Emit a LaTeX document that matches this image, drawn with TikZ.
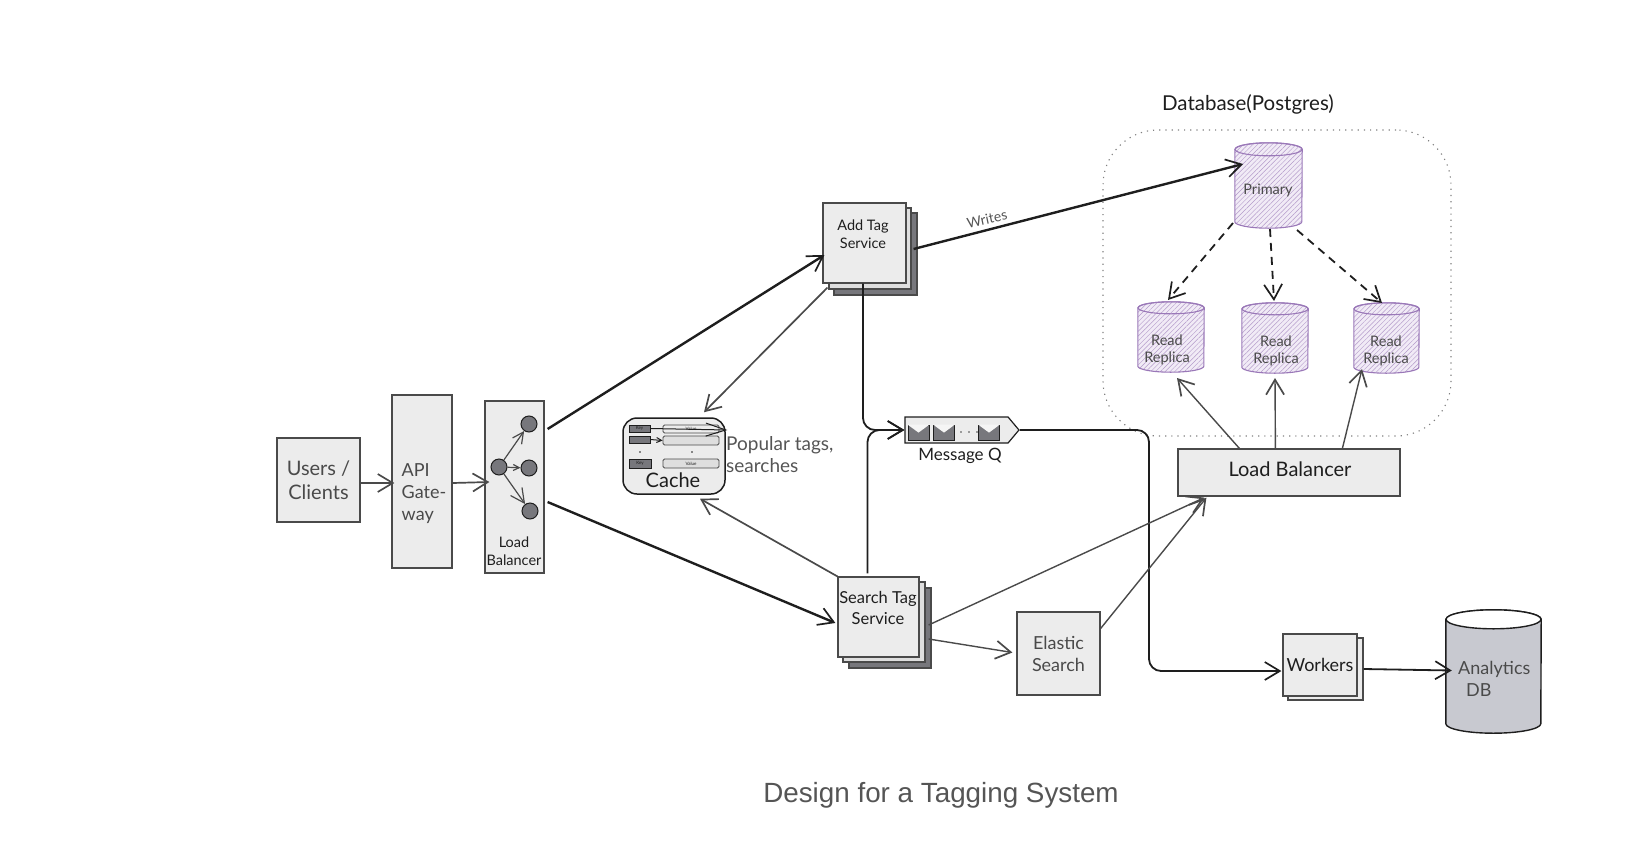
\documentclass[tikz,border=0pt]{standalone}
\usepackage{fontspec}
\setmainfont{Lato}
\newfontfamily\capfont{Liberation Sans}
\usetikzlibrary{arrows.meta,calc,patterns.meta,shapes.symbols}
\definecolor{ink}{HTML}{1E1E1E}
\definecolor{soft}{HTML}{4A4A4A}
\definecolor{boxfill}{HTML}{ECECEC}
\definecolor{midfill}{HTML}{DEDEDE}
\definecolor{darkfill}{HTML}{77777C}
\definecolor{dbfill}{HTML}{C8C9D0}
\definecolor{purp}{HTML}{9A78B8}
\definecolor{purpbg}{HTML}{F1EBF6}
\definecolor{txtgray}{HTML}{555555}
\tikzset{
  fs/.style={font=\fontsize{#1}{1.22\dimexpr#1pt\relax}\selectfont},
  box/.style={draw=soft,line width=1.2pt,fill=boxfill,rectangle,inner sep=0pt,align=center,text=soft},
  lbl/.style={inner sep=0pt,align=center,text=ink},
  cylbox/.style={rectangle,inner sep=0pt},
  replbody/.style={draw=purp,line width=1.1pt,preaction={fill=purpbg},pattern={Lines[angle=45,distance=3.4pt,line width=.45pt]},pattern color=purp!75},
  dbbody/.style={draw=ink,line width=1.4pt,fill=dbfill},
  dotn/.style={circle,draw=ink,line width=1pt,fill=darkfill,minimum size=16pt,inner sep=0pt},
  keyb/.style={rectangle,draw=ink,line width=.8pt,fill=darkfill,inner sep=0pt,text=ink,font=\fontsize{4.5}{5}\selectfont},
  valb/.style={rectangle,rounded corners=1.5pt,draw=soft,line width=.8pt,fill=midfill,inner sep=0pt,text=ink,font=\fontsize{4.5}{5}\selectfont},
  env/.style={rectangle,draw=ink,line width=.8pt,fill=darkfill,minimum width=21pt,minimum height=15pt,inner sep=0pt},
  bar/.style={-{Straight Barb[length=15pt,width=18pt,line width=1.7pt]}},
  mainline/.style={bar,draw=ink,line width=2.4pt},
  medline/.style={bar,draw=ink,line width=1.8pt},
  softline/.style={bar,draw=soft,line width=1.7pt},
  dashline/.style={bar,draw=ink,line width=1.8pt,dash pattern=on 8pt off 6pt},
}
% #1 node name, #2 x radius, #3 y radius, #4 body style, #5 top style
\newcommand{\cylshape}[5]{%
  \path[#4] ($(#1.north west)+(0,#3)$) -- ($(#1.south west)+(0,-#3)$)
     arc[start angle=180,end angle=0,x radius=#2,y radius=#3]
     -- ($(#1.north east)+(0,#3)$)
     arc[start angle=0,end angle=-180,x radius=#2,y radius=#3] -- cycle;
  \path[#5] ($(#1.north)+(0,#3)$) ellipse[x radius=#2,y radius=#3];
}
\begin{document}
\begin{tikzpicture}[x=1pt,y=-1pt]
\useasboundingbox (0,0) rectangle (1649,854);
% database group
\node[draw=soft!70,rectangle,rounded corners=55pt,line width=1.1pt,dash pattern=on 1.2pt off 5pt,minimum width=348pt,minimum height=306pt,inner sep=0pt] (dbgroup) at (1277,283) {};
\node[lbl,fs=20.5] (dbtitle) at (1248,104) {Database(Postgres)};
% left boxes
\node[box,fs=20,minimum width=83pt,minimum height=84pt] (users) at (318.5,480) {Users /\\Clients};
\node[box,minimum width=60pt,minimum height=173pt] (api) at (422,481.5) {};
\node[lbl,fs=18,align=left,text=soft] (apitext) at (424,494) {API\\Gate-\\way};
\node[box,minimum width=59pt,minimum height=172pt] (lb) at (514.5,487) {};
\node[lbl,fs=14.5] (lbtext) at (514,551) {Load\\Balancer};
\node[dotn] (c0) at (499,467) {};
\node[dotn] (c1) at (529,424) {};
\node[dotn] (c2) at (529,468) {};
\node[dotn] (c3) at (530,511) {};
% cache
\node[box,draw=ink,line width=1.5pt,rounded corners=14pt,minimum width=102pt,minimum height=76pt] (cache) at (674,456) {};
\node[keyb,minimum width=21pt,minimum height=7pt] (k1) at (639.5,428.5) {Key};
\node[keyb,minimum width=21pt,minimum height=7pt] (k2) at (639.5,439.5) {};
\node[keyb,minimum width=22pt,minimum height=9pt] (k3) at (640,463.5) {Key};
\node[valb,fill=boxfill,minimum width=56pt,minimum height=8pt] (v1) at (691,429) {Value};
\node[valb,minimum width=56pt,minimum height=9pt] (v2) at (691,440.5) {};
\node[valb,minimum width=56pt,minimum height=9pt] (v3) at (691,463.5) {Value};
\fill[ink] (640,452) circle (.9pt) (692,452) circle (.9pt);
\node[lbl,fs=20] (cachetext) at (673,480) {Cache};
\node[lbl,font=\fontsize{19}{21.5}\selectfont,anchor=west,align=left,text=txtgray] (poptext) at (726,454.5) {Popular tags,\\searches};
% services
\node[box,fill=darkfill,minimum width=83pt,minimum height=82pt] (add3) at (875.5,254) {};
\node[box,fill=midfill,minimum width=82pt,minimum height=81pt] (add2) at (870,248.5) {};
\node[box,minimum width=83pt,minimum height=80pt] (addtag) at (864.5,243) {};
\node[lbl,fs=14.5] (addtext) at (863,234.5) {Add Tag\\Service};
\node[box,fill=darkfill,minimum width=82pt,minimum height=80pt] (srch3) at (890,628) {};
\node[box,fill=midfill,minimum width=82pt,minimum height=80pt] (srch2) at (884,622) {};
\node[box,minimum width=81pt,minimum height=80pt] (search) at (878.5,617) {};
\node[lbl,fs=16.5] (searchtext) at (878,608) {Search Tag\\Service};
\node[box,fs=18,minimum width=83pt,minimum height=83pt] (elastic) at (1058.5,653.5) {Elastic\\Search};
% message queue
\node[signal,signal to=east,signal from=nowhere,signal pointer angle=100,draw=ink,line width=1.2pt,fill=boxfill,minimum width=114pt,minimum height=26pt,inner sep=0pt] (mq) at (956.5,430) {};
\foreach \n/\x in {e1/918.5,e2/944,e3/989}{
  \node[env] (\n) at (\x,432.5) {};
  \fill[white!92!gray] (\n.north west) -- (\n.north east) -- ($(\n.north)+(0,8)$) -- cycle;
}
\foreach \n/\x in {m1/961,m2/969,m3/977}{ \node[circle,fill=soft,inner sep=0pt,minimum size=1.8pt] (\n) at (\x,432) {}; }
\node[lbl,fs=17] (mqtext) at (960,456) {Message Q};
\node[lbl,fs=14,rotate=12,text=txtgray] (writes) at (987,219) {Writes};
% databases
\node[cylbox,minimum width=67pt,minimum height=85pt] (primary) at (1268.5,185.5) {};
\cylshape{primary}{33.5}{6.5}{replbody}{draw=purp,line width=1.1pt}
\node[lbl,fs=14.5,text=soft] (primtext) at (1268,190) {Primary};
\node[cylbox,minimum width=66pt,minimum height=70pt] (r1) at (1171,337) {};
\cylshape{r1}{33}{6}{replbody}{draw=purp,line width=1.1pt}
\node[lbl,fs=14.5,text=soft] (r1text) at (1167,350) {Read\\Replica};
\node[cylbox,minimum width=66pt,minimum height=70pt] (r2) at (1275,338) {};
\cylshape{r2}{33}{6}{replbody}{draw=purp,line width=1.1pt}
\node[lbl,fs=14.5,text=soft] (r2text) at (1276,351) {Read\\Replica};
\node[cylbox,minimum width=65pt,minimum height=70pt] (r3) at (1386.5,338) {};
\cylshape{r3}{32.5}{6}{replbody}{draw=purp,line width=1.1pt}
\node[lbl,fs=14.5,text=soft] (r3text) at (1386,351) {Read\\Replica};
\node[box,minimum width=222pt,minimum height=47pt] (lb2) at (1289,472.5) {};
\node[lbl,fs=20] (lb2text) at (1290,469) {Load Balancer};
\node[box,minimum width=75pt,minimum height=62pt] (work2) at (1325.5,669) {};
\node[box,fs=18,text=ink,minimum width=74pt,minimum height=62pt] (workers) at (1320,665) {Workers};
\node[cylbox,minimum width=95pt,minimum height=123pt] (adb) at (1493.5,671.5) {};
\cylshape{adb}{47.5}{9.5}{dbbody}{draw=ink,line width=1.4pt,fill=white}
\node[lbl,fs=18,align=left,text=soft,anchor=west] (adbtext) at (1458,679) {Analytics\\\hspace{8pt}DB};
% caption
\node[inner sep=0pt,text=txtgray,font=\capfont\fontsize{27.8}{32}\selectfont] (caption) at (941,795) {Design for a Tagging System};
% connectors
\draw[softline] ($(users.east)+(0,3)$) -- ($(api.west)+(3,1.5)$);
\draw[softline] ($(api.east)+(0,1.5)$) -- ($(lb.west)+(5,-5)$);
\draw[-{Straight Barb[length=11pt,width=11pt]},draw=soft,line width=1.2pt] (c0) -- (c1);
\draw[-{Straight Barb[length=6pt,width=6pt]},draw=soft,line width=1.2pt] (c0) -- (c2);
\draw[-{Straight Barb[length=14pt,width=14pt]},draw=soft,line width=1.2pt] (c0) -- (c3);
\draw[-{Straight Barb[length=20pt,width=13pt]},draw=ink,line width=1pt] (k1.east) -- ($(v1.east)+(8,1)$);
\draw[-{Straight Barb[length=5pt,width=5pt]},draw=ink,line width=1pt] (k2.east) -- (v2.west);
\draw[mainline] ($(lb.east)+(3,-58)$) -- ($(addtag.west)+(2,12)$);
\draw[mainline] ($(lb.east)+(3,15)$) -- ($(search.west)+(-2,6)$);
\draw[softline] ($(addtag.south west)+(5,4)$) -- ($(cache.north)+(30,-5)$);
\draw[softline] (search.north west) -- ($(cache.south)+(26,4)$);
\draw[mainline] ($(add3.east)+(-4,-5)$) -- ($(primary.center)+(-25.5,-21.5)$);
\draw[medline,rounded corners=12pt] ($(addtag.south)+(-1.5,0)$) |- (mq.west);
\draw[medline,rounded corners=12pt] ($(search.north)+(-11,-3)$) |- (mq.west);
\coordinate (bus) at (1149,550);
\draw[medline,rounded corners=12pt] (mq.east) -| (bus) |- ($(workers.west)+(-1,6)$);
\draw[medline] (work2.east) -- ($(adb.west)+(6,-1)$);
\draw[softline,line width=1.4pt] ($(srch3.east)+(-3,-3)$) -- ($(lb2.south west)+(27,1)$);
\draw[softline,line width=1.4pt] ($(elastic.east)+(0,-25)$) -- ($(lb2.south west)+(29,1)$);
\draw[softline,line width=1.4pt] ($(srch3.east)+(-3,11)$) -- ($(elastic.west)+(-4,-1)$);
\draw[softline,line width=1.4pt] ($(lb2.north west)+(62,0)$) -- ($(r1.center)+(6,41)$);
\draw[softline,line width=1.4pt] ($(lb2.north west)+(98,0)$) -- ($(r2.center)+(0,40)$);
\draw[softline,line width=1.4pt] ($(lb2.north west)+(165,0)$) -- ($(r3.center)+(-24.5,31)$);
\draw[dashline] ($(primary.center)+(-35.5,37.5)$) -- ($(r1.center)+(-3,-37)$);
\draw[dashline] ($(primary.center)+(1.5,43.5)$) -- ($(r2.center)+(-1,-37)$);
\draw[dashline] ($(primary.center)+(28.5,44.5)$) -- ($(r3.center)+(-4.5,-35)$);
\end{tikzpicture}
\end{document}
